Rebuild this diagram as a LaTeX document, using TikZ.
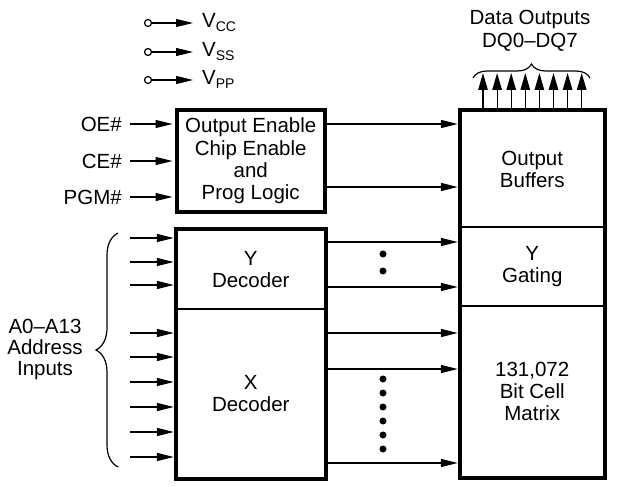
\documentclass[tikz,border=0pt]{standalone}
\usepackage{fontspec}
\setmainfont{Liberation Sans}
\usetikzlibrary{arrows.meta,decorations.pathreplacing}
\newcommand{\vsub}[1]{\raisebox{-4pt}{\fontsize{14}{14}\selectfont #1}}

\begin{document}
\begin{tikzpicture}[x=1pt, y=-1pt, font=\fontsize{20.5}{22}\selectfont,
    sig/.style={line width=1.2pt, -{Triangle[length=17pt,width=8pt]}},
    outsig/.style={line width=1.2pt, -{Triangle[length=17pt,width=9.5pt]}},
    blk/.style={draw, line width=4pt, inner sep=0pt, align=center},
    part/.style={draw, line width=1.3pt, inner sep=0pt, align=center},
    lbl/.style={inner sep=0pt},
    dot/.style={circle, fill=black, inner sep=0pt, minimum size=7pt}]
    \useasboundingbox (0,0) rectangle (625,487);

    % supply pins
    \foreach \n/\s/\y in {cc/CC/23, ss/SS/52, pp/PP/80} {
        \node[circle, draw, line width=1.2pt, inner sep=0pt, minimum size=7pt] (o\n) at (148,\y) {};
        \node[lbl, anchor=base west] (v\n) at (202,\y+5) {V\vsub{\s}};
        \draw[sig, shorten >=9pt] (o\n) -- (v\n.west |- o\n);
    }

    % control logic
    \node[blk, minimum width=148.5, minimum height=101, font=\fontsize{20.5}{22.3}\selectfont] (logic) at (250.75,161)
        {Output Enable\\Chip Enable\\and\\Prog Logic};
    \node[lbl, anchor=east] (oe) at (122,124) {OE\#};
    \node[lbl, anchor=east] (ce) at (122,161) {CE\#};
    \node[lbl, anchor=east] (pgm) at (122,197) {PGM\#};
    \foreach \s in {oe,ce,pgm}
        \draw[sig, shorten >=2pt] ([xshift=8pt]\s.east) -- (\s.east -| logic.west);

    % decoders
    \node[part, minimum width=148.5, minimum height=79.5] (ydec) at (250.75,269.25) {Y\\Decoder};
    \node[part, minimum width=148.5, minimum height=169] (xdec) at (250.75,393.5) {X\\Decoder};
    \draw[line width=4pt] (ydec.north west) rectangle (xdec.south east);

    % buffers, gating and matrix
    \node[part, minimum width=143.5, minimum height=116] (obuf) at (532.25,169) {Output\\Buffers};
    \node[part, minimum width=143.5, minimum height=79] (ygate) at (532.25,266.5) {Y\\Gating};
    \node[part, minimum width=143.5, minimum height=171.5] (matrix) at (532.25,391.75) {131,072\\Bit Cell\\Matrix};
    \draw[line width=4pt] (obuf.north west) rectangle (matrix.south east);

    \draw[sig, shorten >=2pt] (oe -| logic.east) -- (oe -| obuf.west);
    \draw[sig, shorten >=2pt] ([yshift=-26pt]logic.east) -- ([yshift=-26pt]logic.east -| obuf.west);

    % address inputs
    \foreach \y [count=\i] in {238,262,285,333,357,382,407,432,457}
        \coordinate (a\i) at (130,\y);
    \foreach \i in {1,2,3}
        \draw[sig, shorten >=2pt] (a\i) -- (a\i -| ydec.west);
    \foreach \i in {4,...,9}
        \draw[sig, shorten >=2pt] (a\i) -- (a\i -| xdec.west);
    \draw[decorate, decoration={brace, amplitude=22pt}, line width=1.2pt] (118,467) -- (118,233);
    \node[align=center, font=\fontsize{20.5}{21}\selectfont] (addr) at (45,349) {A0--A13\\Address\\Inputs};

    % decoder outputs
    \foreach \y [count=\i] in {242,287,333,369,463}
        \coordinate (d\i) at (325,\y);
    \foreach \i in {1,...,5}
        \draw[sig, shorten >=2pt] (d\i) -- (d\i -| obuf.west);
    \foreach \y [count=\i] in {254,271}
        \node[dot] (yd\i) at (383,\y) {};
    \foreach \y [count=\i] in {379,393,407,421,435,449}
        \node[dot] (xd\i) at (383,\y) {};

    % data outputs
    \foreach \i in {0,...,7} {
        \coordinate (q\i) at (483+14.1*\i,73);
        \draw[outsig] (q\i |- obuf.north) -- (q\i);
    }
    \draw[decorate, decoration={brace, amplitude=14pt}, line width=1.2pt] (473,78) -- (590,78);
    \node[align=center, font=\fontsize{20.5}{23}\selectfont] (dq) at (530,31) {Data Outputs\\DQ0--DQ7};
\end{tikzpicture}
\end{document}
